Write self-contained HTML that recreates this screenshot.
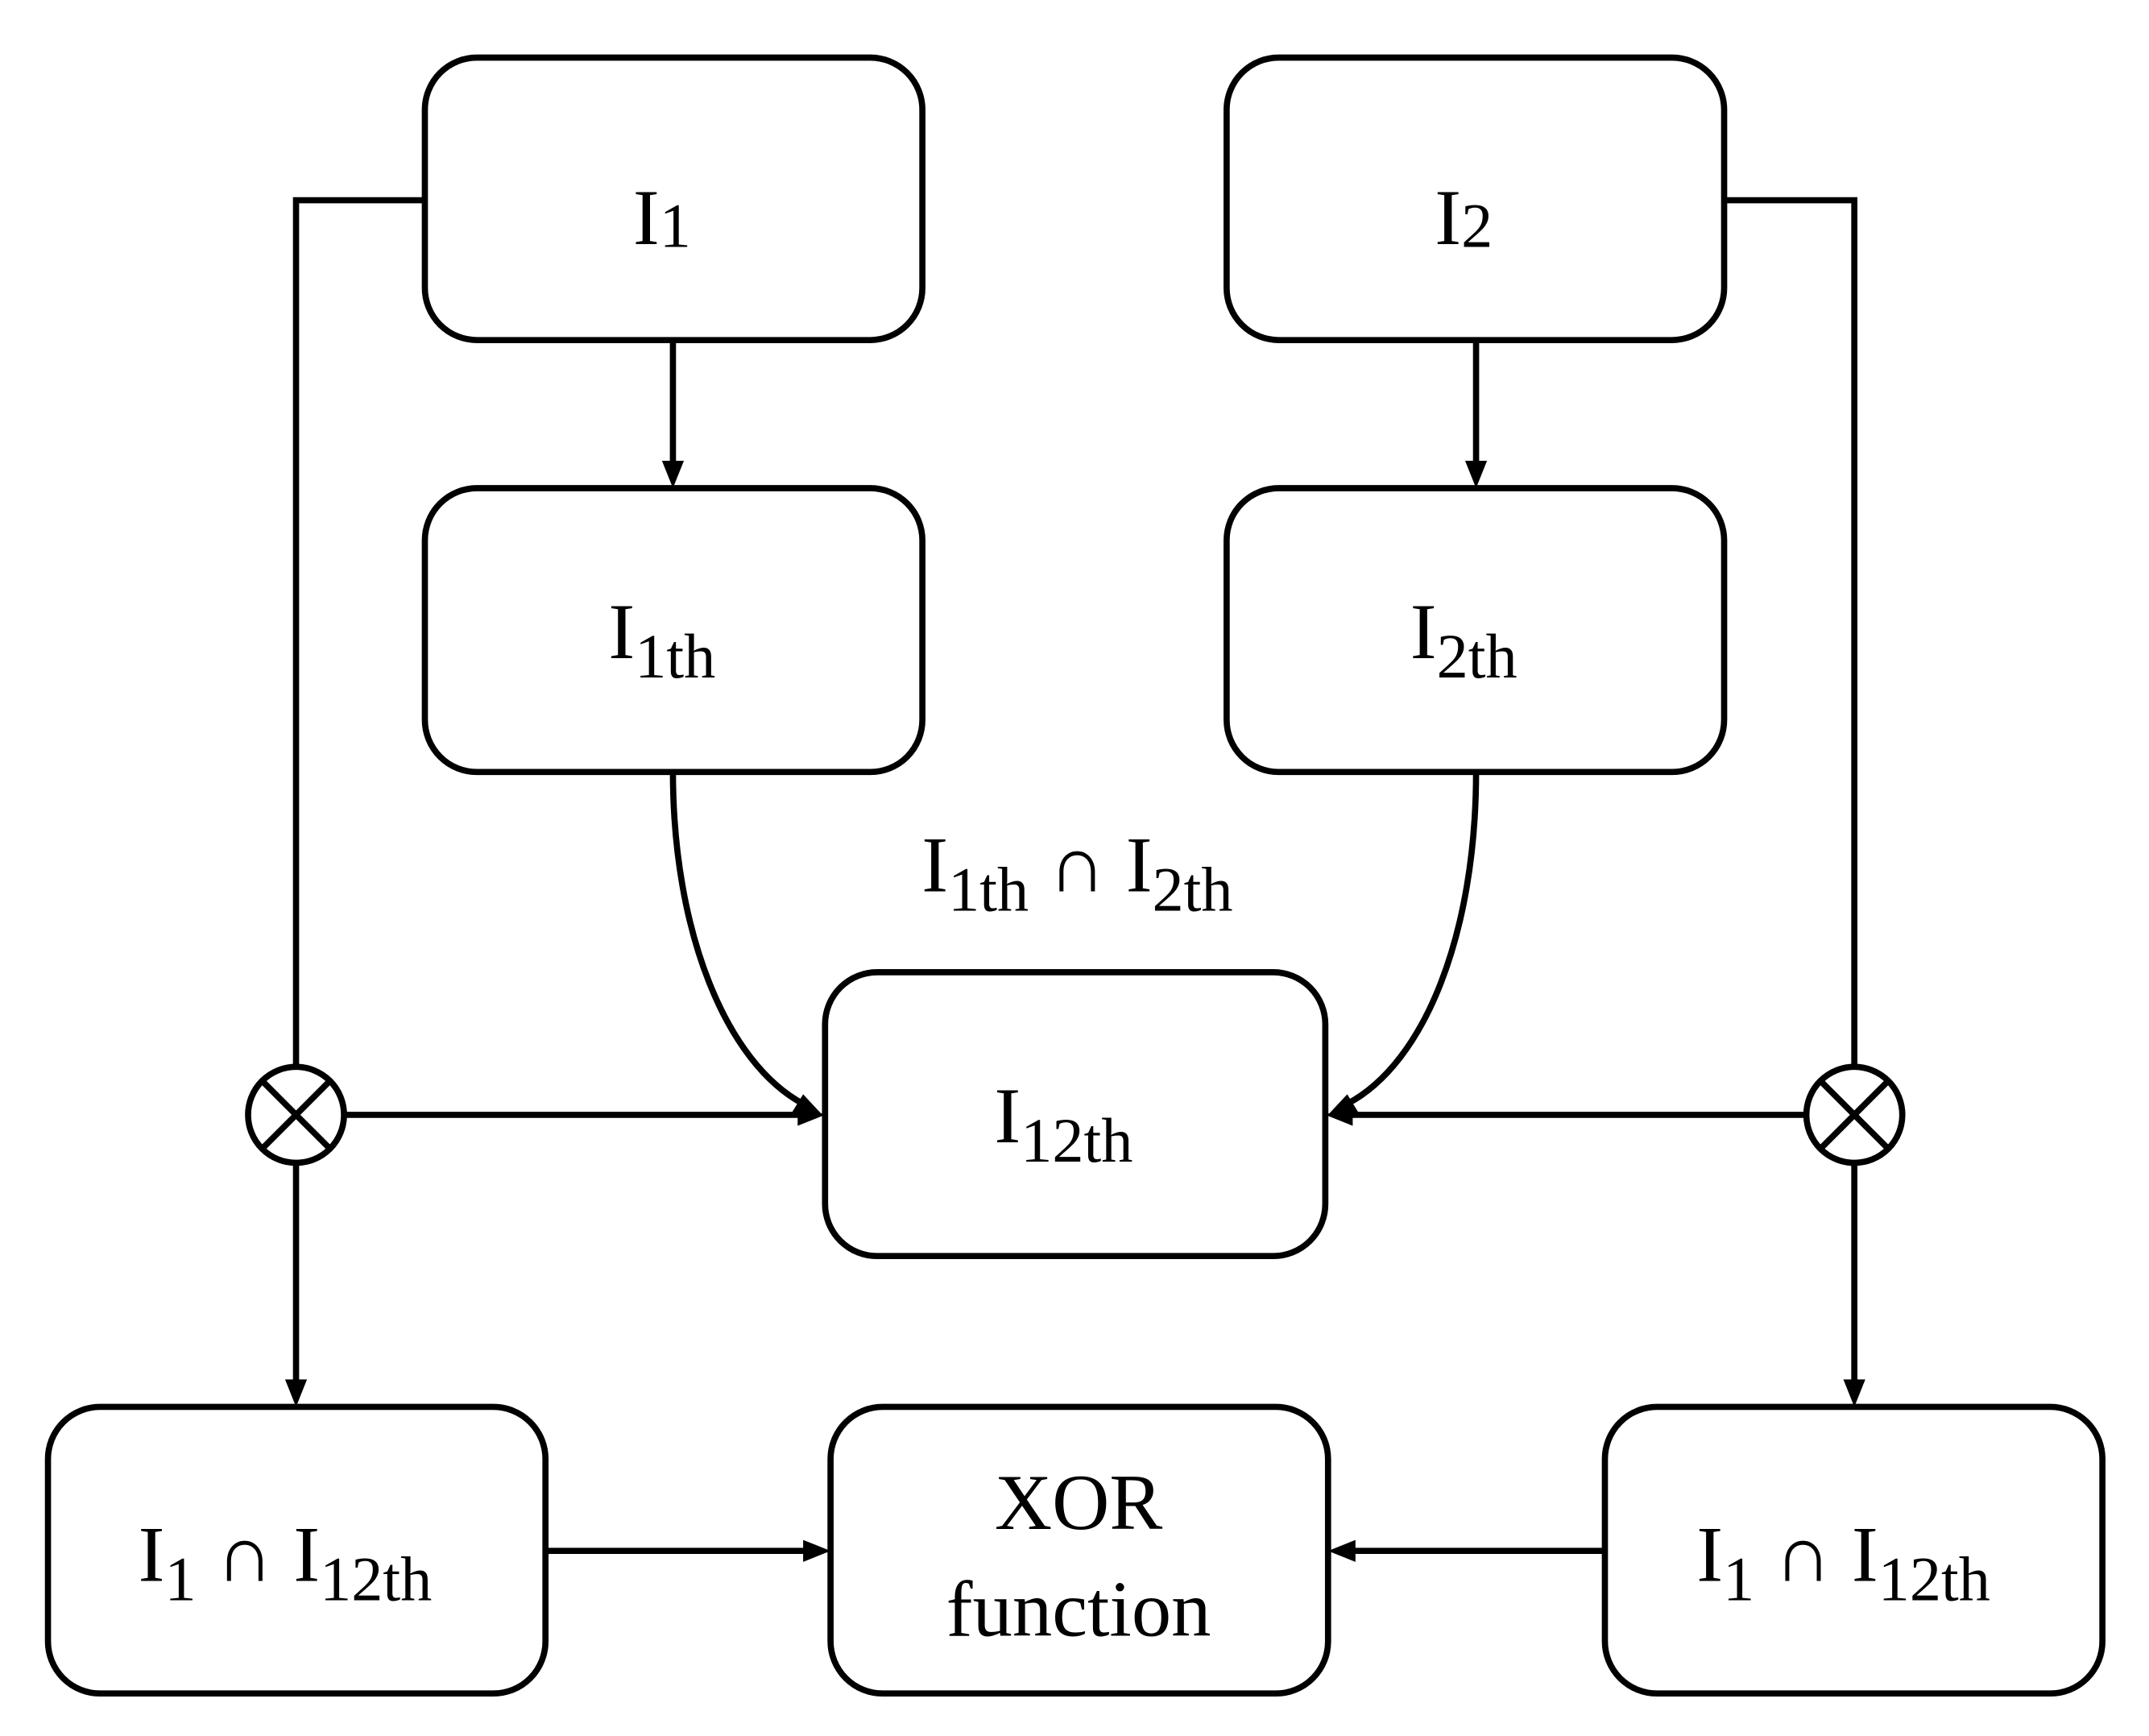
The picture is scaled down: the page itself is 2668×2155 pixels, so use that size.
<!DOCTYPE html>
<html><head><meta charset="utf-8"><style>
html,body{margin:0;padding:0;background:#fff;}
svg{display:block;}
text{font-family:"Liberation Serif",serif;font-size:58px;fill:#000;}
.s{font-size:46px;}
</style></head><body>
<svg width="2668" height="2155" viewBox="0 0 1568 1266" preserveAspectRatio="none" xmlns="http://www.w3.org/2000/svg">
<g fill="none" stroke="#000" stroke-width="4.5">
<rect x="310" y="42" width="363" height="206" rx="38"/>
<rect x="895" y="42" width="363" height="206" rx="38"/>
<rect x="310" y="356" width="363" height="207" rx="38"/>
<rect x="895" y="356" width="363" height="207" rx="38"/>
<rect x="602" y="709" width="365" height="207" rx="38"/>
<rect x="35" y="1026" width="363" height="209" rx="38"/>
<rect x="606" y="1026" width="363" height="209" rx="38"/>
<rect x="1171" y="1026" width="363" height="209" rx="38"/>
<circle cx="216" cy="813" r="35"/>
<circle cx="1353" cy="813" r="35"/>
<path d="M191 788L241 838M241 788L191 838M1328 788L1378 838M1378 788L1328 838"/>
<path d="M310 146H216V778M216 848V1010M251 813H586"/>
<path d="M1258 146H1353V778M1353 848V1010M1318 813H983"/>
<path d="M491 248V340M1077 248V340"/>
<path d="M398 1131H590M1171 1131H985"/>
<path d="M491 563C491 680 530 775 586 805"/>
<path d="M1077 563C1077 680 1040 775 983 805"/>
</g>
<g fill="#000">
<path d="M216 1026l-8 -20h16z"/>
<path d="M1353 1026l-8 -20h16z"/>
<path d="M602 813l-20 -8v16z"/>
<path d="M967 813l20 -8v16z"/>
<path d="M491 356l-8 -20h16z"/>
<path d="M1077 356l-8 -20h16z"/>
<path d="M606 1131l-20 -8v16z"/>
<path d="M969 1131l20 -8v16z"/>
<path d="M600 813l-22 -2l8 -13z"/>
<path d="M969 813l22 -2l-8 -13z"/>
</g>
<text x="483" y="178" text-anchor="middle">I<tspan class="s" dy="2">1</tspan></text>
<text x="1068" y="178" text-anchor="middle">I<tspan class="s" dy="2">2</tspan></text>
<text x="483" y="480" text-anchor="middle">I<tspan class="s" dy="14">1th</tspan></text>
<text x="1068" y="480" text-anchor="middle">I<tspan class="s" dy="14">2th</tspan></text>
<text x="776" y="833" text-anchor="middle">I<tspan class="s" dy="14">12th</tspan></text>
<text x="786" y="650" text-anchor="middle">I<tspan class="s" dy="14">1th</tspan><tspan dy="-14"> ∩ I</tspan><tspan class="s" dy="14">2th</tspan></text>
<text x="208" y="1153" text-anchor="middle">I<tspan class="s" dy="14">1</tspan><tspan dy="-14"> ∩ I</tspan><tspan class="s" dy="14">12th</tspan></text>
<text x="1345" y="1153" text-anchor="middle">I<tspan class="s" dy="14">1</tspan><tspan dy="-14"> ∩ I</tspan><tspan class="s" dy="14">12th</tspan></text>
<text x="787" y="1115" text-anchor="middle">XOR</text>
<text x="787" y="1193" text-anchor="middle">function</text>
</svg>
</body></html>
